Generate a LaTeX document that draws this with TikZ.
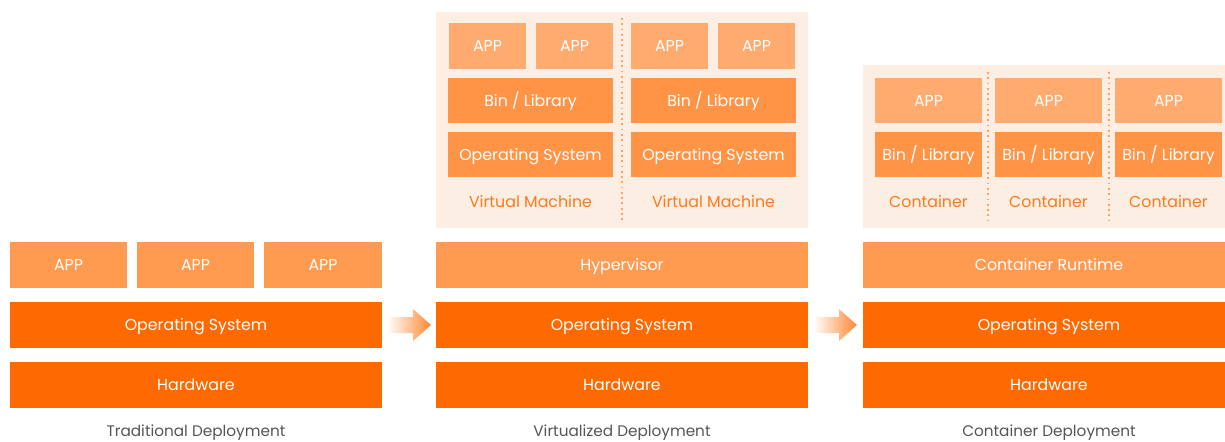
\documentclass[tikz,border=0pt]{standalone}
\usepackage{fontspec}
\setmainfont{Poppins}
\usetikzlibrary{shadings}

\definecolor{hwcolor}{HTML}{FF6A00}
\definecolor{midcolor}{HTML}{FF9B50}
\definecolor{bincolor}{HTML}{FF9446}
\definecolor{appcolor}{HTML}{FFAA6E}
\definecolor{panelcolor}{HTML}{FDEEE3}
\definecolor{vmtext}{HTML}{FF7A1A}
\definecolor{captext}{HTML}{555555}

\tikzset{
    layer/.style={rectangle, inner sep=0pt, text=white, font=\fontsize{9}{11}\selectfont,
        text height=1.55ex, text depth=0.35ex, minimum height=0.92cm},
    wide/.style={layer, minimum width=7.44cm},
    tag/.style={text=vmtext, font=\fontsize{9}{11}\selectfont},
    caption/.style={text=captext, font=\fontsize{8.7}{10}\selectfont},
    divider/.style={vmtext!70, dotted, line width=1pt}
}

\begin{document}
\begin{tikzpicture}[x=0.02cm, y=-0.02cm]
        \useasboundingbox (0, 0) rectangle (1225, 441);

        % traditional
        \node[layer, fill=midcolor, minimum width=2.34cm] (t-app1) at (68.5, 265) {APP};
        \node[layer, fill=midcolor, minimum width=2.34cm] (t-app2) at (195.5, 265) {APP};
        \node[layer, fill=midcolor, minimum width=2.36cm] (t-app3) at (323, 265) {APP};
        \node[wide, fill=hwcolor] (t-os) at (196, 325) {Operating System};
        \node[wide, fill=hwcolor] (t-hw) at (196, 385) {Hardware};
        \node[caption] (t-cap) at (196, 433) {Traditional Deployment};

        % virtualized
        \fill[panelcolor] (436, 12) rectangle (808, 228);
        \draw[divider] (622, 18) -- (622, 222);
        \node[layer, fill=appcolor, minimum width=1.54cm] (v-app1) at (487.5, 46) {APP};
        \node[layer, fill=appcolor, minimum width=1.54cm] (v-app2) at (574.5, 46) {APP};
        \node[layer, fill=appcolor, minimum width=1.54cm] (v-app3) at (669.5, 46) {APP};
        \node[layer, fill=appcolor, minimum width=1.54cm] (v-app4) at (756.5, 46) {APP};
        \node[layer, fill=bincolor, minimum width=3.3cm, minimum height=0.9cm] (v-bin1) at (530.5, 100.5) {Bin / Library};
        \node[layer, fill=bincolor, minimum width=3.3cm, minimum height=0.9cm] (v-bin2) at (713.5, 100.5) {Bin / Library};
        \node[layer, fill=bincolor, minimum width=3.3cm, minimum height=0.9cm] (v-os1) at (530.5, 154.5) {Operating System};
        \node[layer, fill=bincolor, minimum width=3.3cm, minimum height=0.9cm] (v-os2) at (713.5, 154.5) {Operating System};
        \node[tag] (v-vm1) at (530.5, 202) {Virtual Machine};
        \node[tag] (v-vm2) at (713.5, 202) {Virtual Machine};
        \node[wide, fill=midcolor] (v-hyp) at (622, 265) {Hypervisor};
        \node[wide, fill=hwcolor] (v-os) at (622, 325) {Operating System};
        \node[wide, fill=hwcolor] (v-hw) at (622, 385) {Hardware};
        \node[caption] (v-cap) at (622, 433) {Virtualized Deployment};

        % containers (column runs past the right edge)
        \fill[panelcolor] (863, 65) rectangle (1235, 228);
        \draw[divider] (988, 72) -- (988, 223);
        \draw[divider] (1109, 72) -- (1109, 223);
        \node[layer, fill=appcolor, minimum width=2.14cm, minimum height=0.9cm] (c-app1) at (928.5, 100.5) {APP};
        \node[layer, fill=appcolor, minimum width=2.14cm, minimum height=0.9cm] (c-app2) at (1048.5, 100.5) {APP};
        \node[layer, fill=appcolor, minimum width=2.14cm, minimum height=0.9cm] (c-app3) at (1168.5, 100.5) {APP};
        \node[layer, fill=bincolor, minimum width=2.14cm, minimum height=0.9cm] (c-bin1) at (928.5, 154.5) {Bin / Library};
        \node[layer, fill=bincolor, minimum width=2.14cm, minimum height=0.9cm] (c-bin2) at (1048.5, 154.5) {Bin / Library};
        \node[layer, fill=bincolor, minimum width=2.14cm, minimum height=0.9cm] (c-bin3) at (1168.5, 154.5) {Bin / Library};
        \node[tag] (c-ct1) at (928.5, 202) {Container};
        \node[tag] (c-ct2) at (1048.5, 202) {Container};
        \node[tag] (c-ct3) at (1168.5, 202) {Container};
        \node[wide, fill=midcolor] (c-rt) at (1049, 265) {Container Runtime};
        \node[wide, fill=hwcolor] (c-os) at (1049, 325) {Operating System};
        \node[wide, fill=hwcolor] (c-hw) at (1049, 385) {Hardware};
        \node[caption] (c-cap) at (1049, 433) {Container Deployment};

        % arrows
        \shade[left color=white, right color=hwcolor!80]
            (387, 317) -- (413, 317) -- (413, 309) -- (431, 325) -- (413, 341) -- (413, 333) -- (387, 333) -- cycle;
        \shade[left color=white, right color=hwcolor!80]
            (813, 317) -- (839, 317) -- (839, 309) -- (857, 325) -- (839, 341) -- (839, 333) -- (813, 333) -- cycle;

    \end{tikzpicture}
\end{document}
